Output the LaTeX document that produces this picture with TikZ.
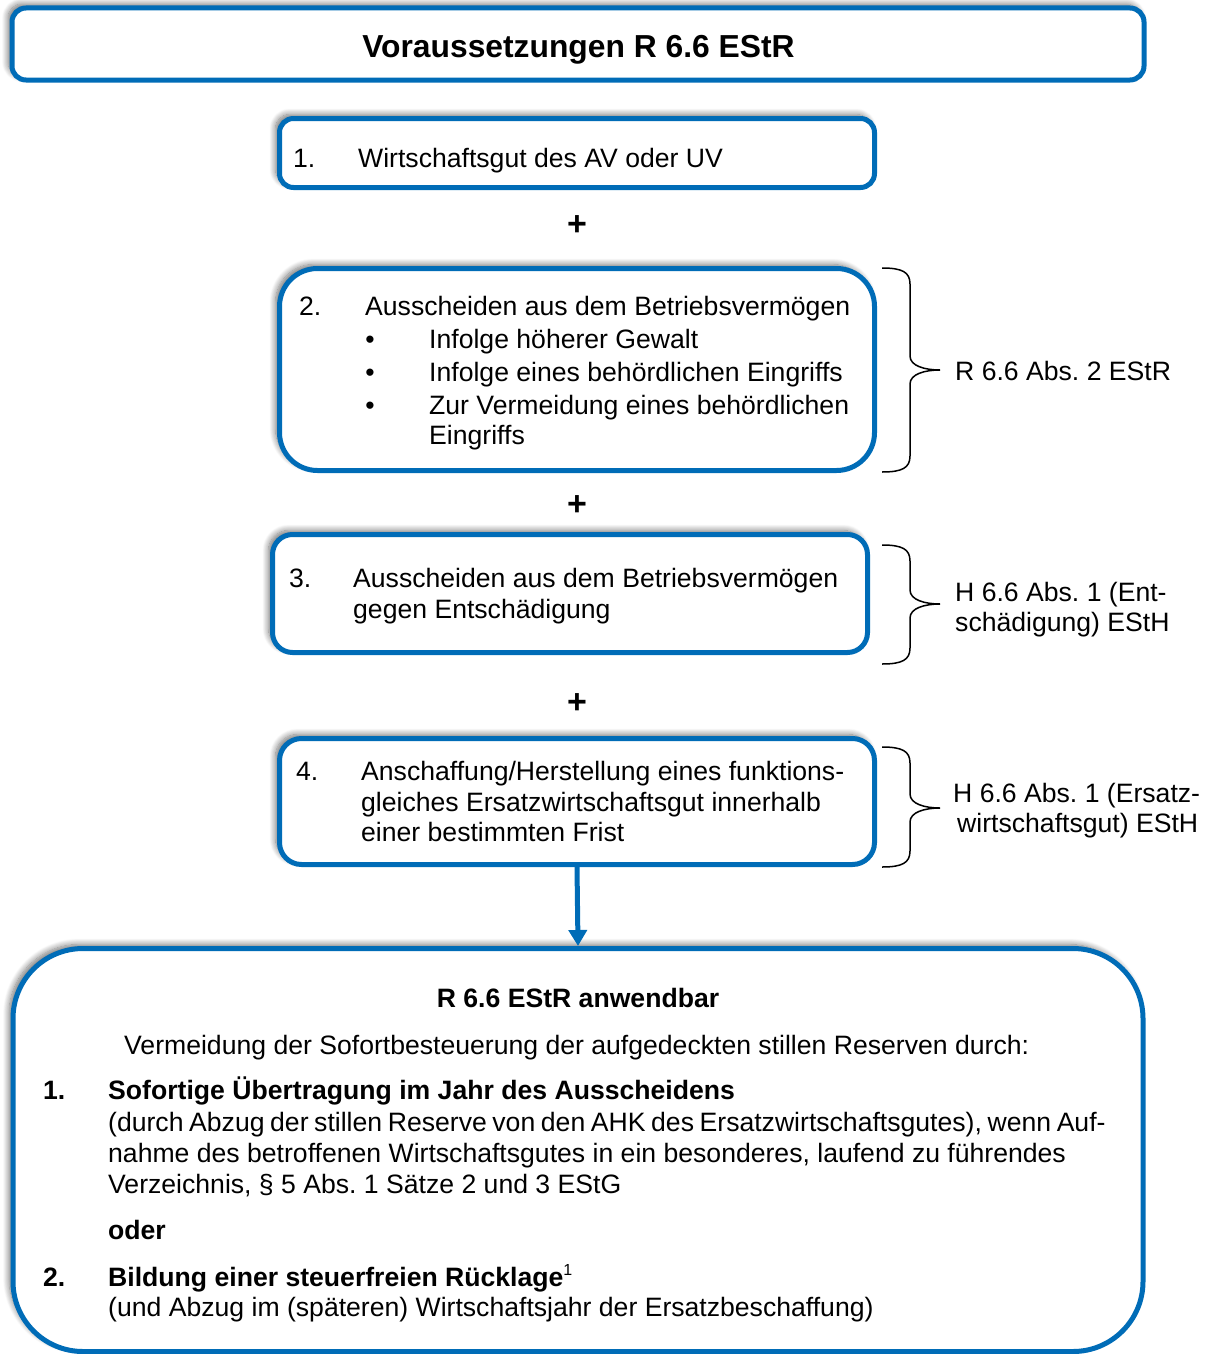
\documentclass[tikz,border=0pt]{standalone}
\usepackage{fontspec}
\setmainfont{Liberation Sans}
\usetikzlibrary{arrows.meta,shadows.blur}
\definecolor{boxblue}{RGB}{0,108,183}
\tikzset{
  panel/.style={draw=boxblue, line width=5pt, fill=white, rectangle, inner sep=0pt,
    blur shadow={shadow xshift=-4pt, shadow yshift=4pt, shadow blur radius=6pt,
      shadow blur steps=10, shadow opacity=55}},
  txt/.style={anchor=base west, inner sep=0pt, font=\fontsize{26.6}{31}\selectfont},
  btxt/.style={txt, font=\fontsize{26.6}{31}\selectfont\bfseries},
  dot/.style={anchor=base, inner sep=0pt, font=\fontsize{26.6}{31}\selectfont},
  plus/.style={inner sep=0pt, font=\fontsize{34}{36}\selectfont\bfseries},
  bracepath/.style={draw=black, line width=1.5pt},
  flow/.style={draw=boxblue, line width=5pt, -{Triangle[width=18pt,length=16pt]}}
}
% curly brace: top y, tip y, bottom y
\newcommand\curlybrace[3]{%
  \draw[bracepath] (882,#1) .. controls (902,#1) and (910,#1+4) .. (910,#1+16)
    -- (910,#2-14) .. controls (910,#2-4) and (925,#2) .. (940,#2)
    .. controls (925,#2) and (910,#2+4) .. (910,#2+14)
    -- (910,#3-16) .. controls (910,#3-4) and (902,#3) .. (882,#3);}
\begin{document}
\frenchspacing
\begin{tikzpicture}[x=1pt, y=-1pt]
\useasboundingbox (0,0) rectangle (1206,1354);

% heading
\node[panel, rounded corners=14pt, minimum width=1132pt, minimum height=72pt] (head) at (578,44) {};
\node[anchor=base, inner sep=0pt, font=\fontsize{31.8}{36}\selectfont\bfseries] (headtxt) at (578.5,57.5) {Voraussetzungen R 6.6 EStR};

% condition 1
\node[panel, rounded corners=14pt, minimum width=595pt, minimum height=69pt] (c1) at (577,153) {};
\node[txt] (c1n) at (293,167) {1.};
\node[txt] (c1a) at (358,167) {Wirtschaftsgut des AV oder UV};

\node[plus] (p1) at (577,226) {+};

% condition 2
\node[panel, rounded corners=38pt, minimum width=595pt, minimum height=202pt] (c2) at (577,369.5) {};
\node[txt] (c2n) at (299,315.5) {2.};
\node[txt] (c2a) at (365,315.5) {Ausscheiden aus dem Betriebsvermögen};
\node[dot] (c2b1) at (370,348.5) {\textbullet};
\node[txt] (c2ba) at (429,348.5) {Infolge höherer Gewalt};
\node[dot] (c2b2) at (370,381.5) {\textbullet};
\node[txt] (c2bb) at (429,381.5) {Infolge eines behördlichen Eingriffs};
\node[dot] (c2b3) at (370,414.5) {\textbullet};
\node[txt] (c2bc) at (429,414.5) {Zur Vermeidung eines behördlichen};
\node[txt] (c2bd) at (429,444.5) {Eingriffs};
\curlybrace{268}{370}{472}
\node[txt] (r2) at (955,380.5) {R 6.6 Abs. 2 EStR};

\node[plus] (p2) at (577,506) {+};

% condition 3
\node[panel, rounded corners=20pt, minimum width=595pt, minimum height=118pt] (c3) at (570,593.5) {};
\node[txt] (c3n) at (289,587) {3.};
\node[txt] (c3a) at (353,587) {Ausscheiden aus dem Betriebsvermögen};
\node[txt] (c3b) at (353,618) {gegen Entschädigung};
\curlybrace{545}{604}{664}
\node[txt] (r3a) at (955,601) {H 6.6 Abs. 1 (Ent-};
\node[txt] (r3b) at (955,631) {schädigung) EStH};

\node[plus] (p3) at (577,704) {+};

% condition 4
\node[panel, rounded corners=22pt, minimum width=595pt, minimum height=126pt] (c4) at (577,801.5) {};
\node[txt] (c4n) at (296,780.5) {4.};
\node[txt] (c4a) at (361,780.5) {Anschaffung/Herstellung eines funktions-};
\node[txt] (c4b) at (361,811.5) {gleiches Ersatzwirtschaftsgut innerhalb};
\node[txt] (c4c) at (361,841.5) {einer bestimmten Frist};
\curlybrace{747}{808}{867}
\node[txt] (r4a) at (953,802) {H 6.6 Abs. 1 (Ersatz-};
\node[txt] (r4b) at (957,832) {wirtschaftsgut) EStH};

% result
\node[panel, rounded corners=70pt, minimum width=1130pt, minimum height=403pt] (res) at (578,1150) {};
\draw[flow] (c4.south) -- (res.north);

\node[btxt, anchor=base] (rt) at (578,1007.5) {R 6.6 EStR anwendbar};
\node[txt] (rv) at (124,1054.5) {Vermeidung der Sofortbesteuerung der aufgedeckten stillen Reserven durch:};
\node[btxt] (o1n) at (43,1099.5) {1.};
\node[btxt] (o1a) at (108,1099.5) {Sofortige Übertragung im Jahr des Ausscheidens};
\node[txt] (o1b) at (108,1131.5) {\spaceskip=5.6pt (durch Abzug der stillen Reserve von den AHK des Ersatzwirtschaftsgutes), wenn Auf-};
\node[txt] (o1c) at (108,1162.5) {nahme des betroffenen Wirtschaftsgutes in ein besonderes, laufend zu führendes};
\node[txt] (o1d) at (108,1193.5) {Verzeichnis, § 5 Abs. 1 Sätze 2 und 3 EStG};
\node[btxt] (oder) at (108,1239.5) {oder};
\node[btxt] (o2n) at (43,1286.5) {2.};
\node[btxt] (o2a) at (108,1286.5) {Bildung einer steuerfreien Rücklage\raisebox{11pt}{\fontsize{16}{16}\selectfont\mdseries 1}};
\node[txt] (o2b) at (108,1316.5) {(und Abzug im (späteren) Wirtschaftsjahr der Ersatzbeschaffung)};
\end{tikzpicture}
\end{document}
